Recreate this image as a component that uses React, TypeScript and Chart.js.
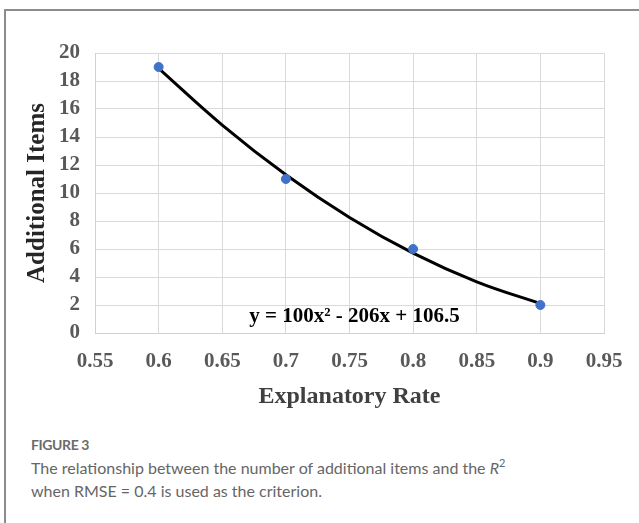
import React, { useEffect, useRef } from "react";
import { Chart, registerables } from "chart.js";

Chart.register(...registerables);

// ---- data ----
const explanatoryRates = [0.6, 0.7, 0.8, 0.9];
const additionalItems = [19, 11, 6, 2];
const trendRates = [0.6, 0.65, 0.7, 0.75, 0.8, 0.85, 0.9];
const trendItems = [18.9, 14.85, 11.3, 8.25, 5.7, 3.65, 2.1];
const xTickValues = [0.55, 0.6, 0.65, 0.7, 0.75, 0.8, 0.85, 0.9, 0.95];
const yTickValues = [0, 2, 4, 6, 8, 10, 12, 14, 16, 18, 20];
const equationText = "y = 100x² - 206x + 106.5";
const equationAt = { x: 0.754, y: 1.16 };
const xTitle = "Explanatory Rate";
const yTitle = "Additional Items";

const SERIF = '"Liberation Serif", "Times New Roman", serif';

const equationPlugin = {
  id: "equationLabel",
  afterDatasetsDraw(chart: any) {
    const { ctx, scales } = chart;
    const px = scales.x.getPixelForValue(equationAt.x);
    const py = scales.y.getPixelForValue(equationAt.y);
    ctx.save();
    ctx.font = `bold 21px ${SERIF}`;
    ctx.fillStyle = "#000000";
    ctx.textAlign = "center";
    ctx.textBaseline = "middle";
    ctx.fillText(equationText, px, py);
    ctx.restore();
  },
};

function fmt(v: number) {
  return String(Number(v.toFixed(2)));
}

export default function App() {
  const canvasRef = useRef<HTMLCanvasElement | null>(null);

  useEffect(() => {
    const canvas = canvasRef.current;
    if (!canvas) return;
    const chart = new Chart(canvas, {
      type: "scatter",
      data: {
        datasets: [
          {
            label: "Observed",
            data: explanatoryRates.map((x, i) => ({ x, y: additionalItems[i] })),
            backgroundColor: "#3F72C8",
            borderColor: "#3F72C8",
            pointRadius: 4.5,
            showLine: false,
            order: 0,
          },
          {
            label: "Trend",
            data: trendRates.map((x, i) => ({ x, y: trendItems[i] })),
            showLine: true,
            borderColor: "#000000",
            borderWidth: 3,
            pointRadius: 0,
            tension: 0.4,
            order: 1,
          } as any,
        ],
      },
      options: {
        animation: false,
        responsive: false,
        events: [],
        layout: { padding: { top: 53, right: 35, left: 0, bottom: 0 } },
        plugins: {
          legend: { display: false },
          tooltip: { enabled: false },
        },
        scales: {
          x: {
            type: "linear",
            min: 0.55,
            max: 0.95,
            afterBuildTicks: (s: any) => {
              s.ticks = xTickValues.map((v) => ({ value: v }));
            },
            afterFit: (s: any) => {
              s.height = 87;
            },
            grid: { color: "#d9d9d9", lineWidth: 1, drawTicks: false },
            border: { color: "#d0d0d0", width: 1 },
            ticks: {
              padding: 16,
              color: "#595959",
              font: { family: SERIF, size: 21, weight: "bold" },
              callback: (v: any) => fmt(Number(v)),
              maxRotation: 0,
              autoSkip: false,
            },
            title: {
              display: true,
              text: xTitle,
              color: "#404040",
              font: { family: SERIF, size: 24, weight: "bold" },
              padding: { top: 0, bottom: 9 },
            },
          },
          y: {
            type: "linear",
            min: 0,
            max: 20,
            afterBuildTicks: (s: any) => {
              s.ticks = yTickValues.map((v) => ({ value: v }));
            },
            afterFit: (s: any) => {
              s.width = 95;
            },
            grid: { color: "#d9d9d9", lineWidth: 1, drawTicks: false },
            border: { color: "#d0d0d0", width: 1 },
            ticks: {
              padding: 15,
              color: "#595959",
              font: { family: SERIF, size: 21, weight: "bold" },
              autoSkip: false,
            },
            title: {
              display: true,
              text: yTitle,
              color: "#262626",
              font: { family: SERIF, size: 25, weight: "bold" },
              padding: { top: 23, bottom: 0 },
            },
          },
        },
      },
      plugins: [equationPlugin],
    });
    return () => chart.destroy();
  }, []);

  return (
    <div
      style={{
        position: "fixed",
        left: 0,
        top: 0,
        width: 639,
        height: 523,
        background: "#ffffff",
        overflow: "hidden",
      }}
    >
      <div
        style={{
          position: "absolute",
          left: 4,
          top: 9,
          width: 700,
          height: 600,
          borderLeft: "2px solid #8c8c8c",
          borderTop: "2px solid #8c8c8c",
          boxSizing: "border-box",
        }}
      />
      <canvas
        ref={canvasRef}
        width={639}
        height={420}
        style={{ position: "absolute", left: 0, top: 0, width: 639, height: 420 }}
      />
      <div
        style={{
          position: "absolute",
          left: 31,
          top: 434,
          fontFamily: 'Lato, "Open Sans", sans-serif',
          fontSize: 14,
          fontWeight: 700,
          letterSpacing: "-0.4px",
          color: "#6b6b6b",
          lineHeight: "22px",
        }}
      >
        FIGURE 3
      </div>
      <div
        style={{
          position: "absolute",
          left: 31,
          top: 456,
          width: 600,
          fontFamily: 'Lato, "Open Sans", sans-serif',
          fontSize: 16,
          fontWeight: 400,
          color: "#666666",
          lineHeight: "23px",
        }}
      >
        The relationship between the number of additional items and the{" "}
        <i>R</i>
        <sup style={{ fontSize: 11, verticalAlign: "7px", lineHeight: 0 }}>2</sup>
        <br />
        when RMSE = 0.4 is used as the criterion.
      </div>
    </div>
  );
}
